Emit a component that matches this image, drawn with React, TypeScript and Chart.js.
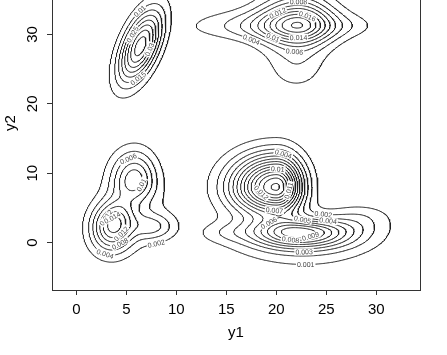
import { useEffect, useRef } from "react";
import { Chart, registerables } from "chart.js";
Chart.register(...registerables);

// ---- axes ----
const xTicks = [0, 5, 10, 15, 20, 25, 30];
const yTicks = [0, 10, 20, 30];
const xTitle = "y1";
const yTitle = "y2";
const xRange = [-2.43, 34.37];
const yRange = [-6.82, 40.0];

// ---- density components per cluster:
// [meanX, meanY, sdLeft, sdRight, sdDown, sdUp, rho, peak]
const upperLeftComponents = [[6.4, 28.3, 1.5, 1.5, 3.6, 3.6, 0.55, 0.043]];
const upperLeftLevels = [0.005, 0.01, 0.015, 0.02, 0.025, 0.03, 0.035, 0.04];
// [level, component index, direction (deg)]
const upperLeftLabels = [[0.01, 0, 85], [0.025, 0, 119], [0.03, 0, -15], [0.015, 0, 261]];

const upperRightComponents = [
  [22.2, 31.5, 2.6, 2.3, 2.7, 2.9, 0, 0.0135],
  [21.5, 31.2, 6.0, 4.3, 1.4, 1.6, 0, 0.007],
  [22.0, 25.0, 2.0, 2.0, 2.3, 2.0, 0, 0.0028],
  [27.8, 31.3, 1.5, 1.5, 0.9, 0.9, 0, 0.0006],
];
const upperRightLevels = [0.002, 0.004, 0.006, 0.008, 0.01, 0.012, 0.014, 0.016, 0.018, 0.02];
const upperRightLabels = [
  [0.008, 0, 95], [0.012, 0, 157], [0.016, 0, 37], [0.004, 0, 193],
  [0.01, 0, 202], [0.014, 0, 270], [0.006, 0, 257],
];

const lowerLeftComponents = [
  [3.7, 2.5, 1.5, 1.4, 2.6, 2.4, 0.1, 0.0135],
  [5.8, 9.2, 1.6, 1.5, 2.2, 2.8, 0, 0.0105],
  [7.6, 2.3, 1.3, 1.6, 1.3, 1.3, 0, 0.005],
  [6.0, 3.5, 2.8, 2.8, 3.5, 4.0, 0, 0.0025],
];
const lowerLeftLevels = [0.002, 0.004, 0.006, 0.008, 0.01, 0.012, 0.014, 0.016];
const lowerLeftLabels = [
  [0.006, 1, 103], [0.012, 1, 80], [0.01, 1, -45], [0.014, 0, 97],
  [0.012, 0, -50], [0.008, 2, -72], [0.004, 0, 260], [0.002, 2, -74],
];

const lowerRightComponents = [
  [20.0, 8.0, 3.0, 1.8, 2.6, 3.1, 0, 0.0142],
  [22.3, 1.4, 3.2, 3.6, 1.5, 1.3, 0, 0.0075],
  [23.0, 1.6, 5.5, 5.0, 3.6, 2.0, 0, 0.0022],
  [28.5, 3.8, 2.0, 2.2, 1.3, 1.3, 0, 0.0012],
  [15.0, 1.4, 2.0, 2.0, 1.0, 1.0, 0, 0.001],
];
const lowerRightLevels = [0.001, 0.002, 0.003, 0.004, 0.005, 0.006, 0.007, 0.008, 0.009, 0.01, 0.011, 0.012, 0.013, 0.014];
const lowerRightLabels = [
  [0.004, 0, 83], [0.01, 0, 90], [0.012, 0, 195], [0.011, 0, -20], [0.007, 0, 263],
  [0.006, 1, 167], [0.005, 1, 71], [0.002, 1, 32], [0.004, 1, 17], [0.009, 1, -11],
  [0.008, 1, 213], [0.003, 1, 288], [0.001, 1, 287],
];

type Pt = { x: number; y: number };
type Contour = { level: number; pts: Pt[]; closed: boolean };
type Cluster = { comps: number[][]; levels: number[]; labels: number[][]; contours: Contour[] };

function density(comps: number[][], x: number, y: number): number {
  let s = 0;
  for (const [mx, my, sl, sr, sd, su, rho, a] of comps) {
    const dx = (x - mx) / (x < mx ? sl : sr);
    const dy = (y - my) / (y < my ? sd : su);
    const q = (dx * dx - 2 * rho * dx * dy + dy * dy) / (1 - rho * rho);
    s += a * Math.exp(-0.5 * q);
  }
  return s;
}

const TABLE: (number[][] | null)[] = [
  [], [[3, 0]], [[0, 1]], [[3, 1]], [[1, 2]], null, [[0, 2]], [[3, 2]],
  [[2, 3]], [[0, 2]], null, [[1, 2]], [[1, 3]], [[0, 1]], [[0, 3]], [],
];

function buildContours(comps: number[][], levels: number[]): Contour[] {
  let x0 = Infinity, x1 = -Infinity, y0 = Infinity, y1 = -Infinity;
  for (const c of comps) {
    x0 = Math.min(x0, c[0] - 5 * c[2]);
    x1 = Math.max(x1, c[0] + 5 * c[3]);
    y0 = Math.min(y0, c[1] - 5 * c[4]);
    y1 = Math.max(y1, c[1] + 5 * c[5]);
  }
  const h = 0.08;
  const nx = Math.ceil((x1 - x0) / h) + 1;
  const ny = Math.ceil((y1 - y0) / h) + 1;
  const v = new Float64Array(nx * ny);
  for (let j = 0; j < ny; j++)
    for (let i = 0; i < nx; i++) v[j * nx + i] = density(comps, x0 + i * h, y0 + j * h);

  const out: Contour[] = [];
  for (const L of levels) {
    const segs: number[][] = [];
    const adj = new Map<number, number[]>();
    const pos = new Map<number, Pt>();
    const pointOf = (id: number): Pt => {
      let p = pos.get(id);
      if (p) return p;
      const k = id >> 1;
      const i = k % nx;
      const j = (k - i) / nx;
      const va = v[k];
      if ((id & 1) === 0) {
        const vb = v[k + 1];
        const t = (L - va) / (vb - va);
        p = { x: x0 + (i + t) * h, y: y0 + j * h };
      } else {
        const vb = v[k + nx];
        const t = (L - va) / (vb - va);
        p = { x: x0 + i * h, y: y0 + (j + t) * h };
      }
      pos.set(id, p);
      return p;
    };
    const addSeg = (a: number, b: number) => {
      const idx = segs.length;
      segs.push([a, b]);
      for (const e of [a, b]) {
        const l = adj.get(e);
        if (l) l.push(idx);
        else adj.set(e, [idx]);
      }
    };
    for (let j = 0; j < ny - 1; j++) {
      for (let i = 0; i < nx - 1; i++) {
        const k = j * nx + i;
        const a = v[k], b = v[k + 1], c = v[k + nx + 1], d = v[k + nx];
        const cs = (a > L ? 1 : 0) | (b > L ? 2 : 0) | (c > L ? 4 : 0) | (d > L ? 8 : 0);
        if (cs === 0 || cs === 15) continue;
        const e = [2 * k, 2 * (k + 1) + 1, 2 * (k + nx), 2 * k + 1];
        let pairs = TABLE[cs];
        if (!pairs) {
          const center = (a + b + c + d) / 4 > L;
          if (cs === 5) pairs = center ? [[0, 1], [2, 3]] : [[3, 0], [1, 2]];
          else pairs = center ? [[3, 0], [1, 2]] : [[0, 1], [2, 3]];
        }
        for (const [p, q] of pairs) addSeg(e[p], e[q]);
      }
    }
    const used = new Uint8Array(segs.length);
    const walk = (start: number): number[] => {
      const res: number[] = [];
      let cur = start;
      for (;;) {
        const l = adj.get(cur) || [];
        let nxt = -1;
        for (const s of l) if (!used[s]) { nxt = s; break; }
        if (nxt < 0) break;
        used[nxt] = 1;
        const other = segs[nxt][0] === cur ? segs[nxt][1] : segs[nxt][0];
        res.push(other);
        cur = other;
      }
      return res;
    };
    for (let s = 0; s < segs.length; s++) {
      if (used[s]) continue;
      used[s] = 1;
      const [a, b] = segs[s];
      const fwd = walk(b);
      const back = walk(a);
      const ids = [...back.reverse(), a, b, ...fwd];
      const closed = ids[0] === ids[ids.length - 1];
      out.push({ level: L, pts: ids.map(pointOf), closed });
    }
  }
  return out;
}

function makeCluster(comps: number[][], levels: number[], labels: number[][]): Cluster {
  return { comps, levels, labels, contours: buildContours(comps, levels) };
}

const FONT = '"Liberation Sans", Arial, Helvetica, sans-serif';

export default function App() {
  const ref = useRef<HTMLCanvasElement | null>(null);
  useEffect(() => {
    const canvas = ref.current;
    if (!canvas) return;
    const clusters: Cluster[] = [
      makeCluster(upperLeftComponents, upperLeftLevels, upperLeftLabels),
      makeCluster(upperRightComponents, upperRightLevels, upperRightLabels),
      makeCluster(lowerLeftComponents, lowerLeftLevels, lowerLeftLabels),
      makeCluster(lowerRightComponents, lowerRightLevels, lowerRightLabels),
    ];
    const datasets: any[] = [];
    for (const cl of clusters)
      for (const c of cl.contours)
        datasets.push({
          data: c.pts,
          showLine: true,
          pointRadius: 0,
          pointHitRadius: 0,
          borderColor: "#1e1e1e",
          borderWidth: 1,
          fill: false,
          tension: 0,
        });

    const decor = {
      id: "decor",
      afterDatasetsDraw(chart: any) {
        const ctx: CanvasRenderingContext2D = chart.ctx;
        const xs = chart.scales.x;
        const ys = chart.scales.y;
        const area = chart.chartArea;
        ctx.save();
        ctx.beginPath();
        ctx.rect(area.left, area.top, area.right - area.left, area.bottom - area.top);
        ctx.clip();
        ctx.font = "7px " + FONT;
        ctx.textAlign = "center";
        ctx.textBaseline = "middle";
        for (const cl of clusters) {
          for (const [level, ci, ang] of cl.labels) {
            const comp = cl.comps[ci];
            const pcx = xs.getPixelForValue(comp[0]);
            const pcy = ys.getPixelForValue(comp[1]);
            let best: { c: Contour; k: number } | null = null;
            let bestDist = Infinity;
            let fb: { c: Contour; k: number } | null = null;
            let fbDiff = Infinity;
            for (const c of cl.contours) {
              if (Math.abs(c.level - level) > 1e-9) continue;
              for (let k = 0; k < c.pts.length; k++) {
                const px = xs.getPixelForValue(c.pts[k].x);
                const py = ys.getPixelForValue(c.pts[k].y);
                const a = (Math.atan2(pcy - py, px - pcx) * 180) / Math.PI;
                const diff = Math.abs(((a - ang) % 360 + 540) % 360 - 180);
                const dist = Math.hypot(px - pcx, py - pcy);
                if (diff < 6 && dist < bestDist) { bestDist = dist; best = { c, k }; }
                if (diff < fbDiff) { fbDiff = diff; fb = { c, k }; }
              }
            }
            const pick = best || fb;
            if (!pick) continue;
            const pts = pick.c.pts;
            const n = pts.length;
            const k = pick.k;
            const ka = pick.c.closed ? (k - 3 + n) % n : Math.max(0, k - 3);
            const kb = pick.c.closed ? (k + 3) % n : Math.min(n - 1, k + 3);
            const px = xs.getPixelForValue(pts[k].x);
            const py = ys.getPixelForValue(pts[k].y);
            const dx = xs.getPixelForValue(pts[kb].x) - xs.getPixelForValue(pts[ka].x);
            const dy = ys.getPixelForValue(pts[kb].y) - ys.getPixelForValue(pts[ka].y);
            let th = Math.atan2(dy, dx);
            if (th > Math.PI / 2) th -= Math.PI;
            if (th < -Math.PI / 2) th += Math.PI;
            const text = String(+level.toFixed(4));
            ctx.save();
            ctx.translate(px, py);
            ctx.rotate(th);
            const w = ctx.measureText(text).width;
            ctx.fillStyle = "#ffffff";
            ctx.fillRect(-w / 2 - 1, -3.5, w + 2, 7);
            ctx.fillStyle = "#444444";
            ctx.fillText(text, 0, 0.5);
            ctx.restore();
          }
        }
        ctx.restore();
      },
      afterDraw(chart: any) {
        const ctx: CanvasRenderingContext2D = chart.ctx;
        const xs = chart.scales.x;
        const ys = chart.scales.y;
        const area = chart.chartArea;
        ctx.save();
        ctx.strokeStyle = "#333333";
        ctx.lineWidth = 1;
        ctx.strokeRect(area.left + 0.5, area.top + 0.5, area.right - area.left, area.bottom - area.top);
        ctx.fillStyle = "#000000";
        ctx.font = "15px " + FONT;
        ctx.textAlign = "center";
        ctx.textBaseline = "alphabetic";
        for (const t of xTicks) ctx.fillText(String(t), xs.getPixelForValue(t), area.bottom + 23.5);
        for (const t of yTicks) {
          ctx.save();
          ctx.translate(37.3, ys.getPixelForValue(t));
          ctx.rotate(-Math.PI / 2);
          ctx.fillText(String(t), 0, 0);
          ctx.restore();
        }
        ctx.fillText(xTitle, (area.left + area.right) / 2, area.bottom + 47);
        ctx.save();
        ctx.translate(15, 123 + 45);
        ctx.rotate(-Math.PI / 2);
        ctx.fillText(yTitle, 0, 0);
        ctx.restore();
        ctx.restore();
      },
    };

    const chart = new Chart(canvas, {
      type: "scatter",
      data: { datasets },
      options: {
        animation: false,
        responsive: false,
        maintainAspectRatio: false,
        events: [],
        layout: { padding: { top: 10, right: 27, left: 0, bottom: 0 } },
        plugins: { legend: { display: false }, tooltip: { enabled: false } },
        scales: {
          x: {
            type: "linear",
            min: xRange[0],
            max: xRange[1],
            afterBuildTicks: (s: any) => { s.ticks = xTicks.map((value) => ({ value })); },
            afterFit: (s: any) => { s.height = 65; },
            ticks: { display: false },
            grid: { drawOnChartArea: false, drawTicks: true, tickLength: 5, color: "#333333", lineWidth: 1 },
            border: { display: false },
          },
          y: {
            type: "linear",
            min: yRange[0],
            max: yRange[1],
            afterBuildTicks: (s: any) => { s.ticks = yTicks.map((value) => ({ value })); },
            afterFit: (s: any) => { s.width = 52; },
            ticks: { display: false },
            grid: { drawOnChartArea: false, drawTicks: true, tickLength: 5, color: "#333333", lineWidth: 1 },
            border: { display: false },
          },
        },
      } as any,
      plugins: [decor],
    });
    return () => chart.destroy();
  }, []);

  return (
    <div style={{ position: "fixed", left: 0, top: 0, width: 447, height: 355, overflow: "hidden", background: "#fff" }}>
      <canvas
        ref={ref}
        width={447}
        height={400}
        style={{ position: "absolute", left: 0, top: -45, width: 447, height: 400 }}
      />
    </div>
  );
}
